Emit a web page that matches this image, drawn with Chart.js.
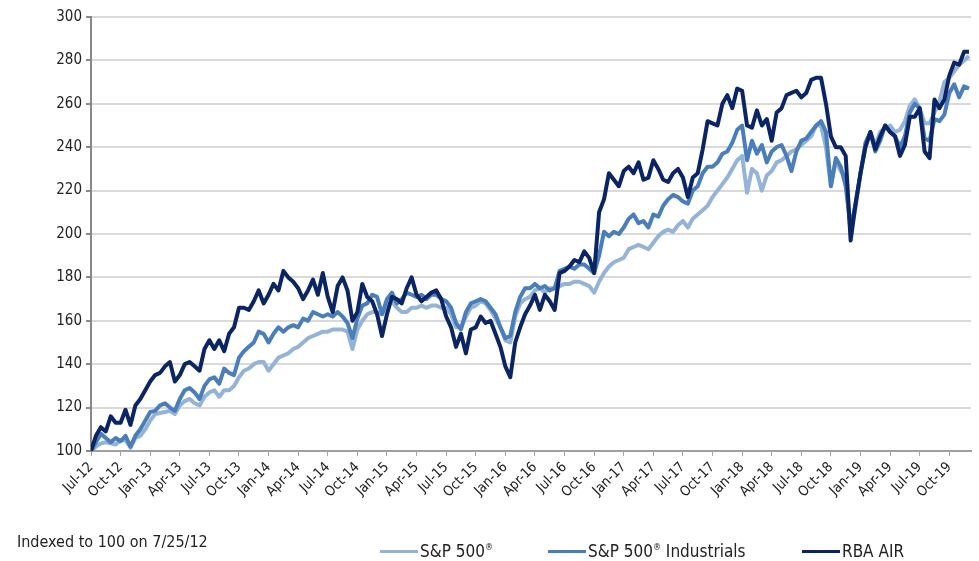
<!DOCTYPE html>
<html>
<head>
<meta charset="utf-8">
<script src="https://cdn.jsdelivr.net/npm/chart.js@4.4.1/dist/chart.umd.min.js"></script>
<style>
    html, body { margin: 0; padding: 0; background: #fff; }
    #wrap { position: relative; width: 979px; height: 561px; font-family: "Liberation Sans Narrow", "DejaVu Sans Condensed", "Liberation Sans", sans-serif; color: #222; }
    #chart { position: absolute; left: 0; top: 0; }
    .note { position: absolute; left: 17px; top: 532px; font-size: 16px; }
    .item { position: absolute; top: 541px; font-size: 17px; white-space: nowrap; }
    .item i { display: inline-block; width: 38px; height: 3px; vertical-align: middle; margin-right: 2px; margin-top: -2px; }
    .item sup { font-size: 9px; }
</style>
</head>
<body>
<div id="wrap">
    <canvas id="chart" width="979" height="561"></canvas>
    <div class="note">Indexed to 100 on 7/25/12</div>
    <div class="item" style="left:380px"><i style="background:#95b3d7"></i>S&amp;P 500<sup>®</sup></div>
    <div class="item" style="left:548px"><i style="background:#4a7ebb"></i>S&amp;P 500<sup>®</sup> Industrials</div>
    <div class="item" style="left:802px"><i style="background:#0b2463"></i>RBA AIR</div>
</div>
<script>
// x = months after the Jul-12 tick, one point every half month
const months = [];
for (let i = 0; i <= 178; i++) months.push(i / 2);

const tickLabels = [
    "Jul-12", "Oct-12", "Jan-13", "Apr-13", "Jul-13", "Oct-13", "Jan-14", "Apr-14",
    "Jul-14", "Oct-14", "Jan-15", "Apr-15", "Jul-15", "Oct-15", "Jan-16", "Apr-16",
    "Jul-16", "Oct-16", "Jan-17", "Apr-17", "Jul-17", "Oct-17", "Jan-18", "Apr-18",
    "Jul-18", "Oct-18", "Jan-19", "Apr-19", "Jul-19", "Oct-19"
];

const rbaAir = [
    100, 107, 111, 109, 116, 113, 113, 119, 112, 121, 124, 128, 132, 135, 136, 139,
    141, 132, 135, 140, 141, 139, 137, 147, 151, 147, 151, 146, 154, 157, 166, 166,
    165, 169, 174, 168, 172, 177, 174, 183, 180, 178, 175, 170, 174, 179, 172, 182,
    171, 164, 176, 180, 174, 160, 164, 177, 171, 169, 163, 153, 163, 171, 170, 168,
    175, 180, 172, 169, 171, 173, 174, 170, 162, 157, 148, 154, 145, 156, 157, 162,
    159, 160, 154, 148, 139, 134, 150, 157, 163, 167, 172, 165, 172, 169, 165, 182,
    183, 185, 188, 187, 192, 189, 182, 210, 216, 228, 225, 222, 229, 231, 228, 233,
    225, 226, 234, 230, 225, 224, 228, 230, 226, 217, 226, 228, 239, 252, 251, 250,
    260, 264, 258, 267, 266, 250, 249, 257, 250, 253, 243, 256, 258, 264, 265, 266,
    263, 265, 271, 272, 272, 260, 245, 240, 240, 236, 197, 214, 228, 240, 247, 239,
    245, 250, 247, 245, 236, 241, 254, 254, 258, 238, 235, 262, 258, 262, 273, 279,
    278, 284, 284
];

const spIndustrials = [
    100, 104, 108, 106, 104, 106, 104.5, 107, 102, 107, 110, 114, 118, 118.5, 121, 122,
    120, 118.5, 124, 128, 129, 127, 124, 130, 133, 134, 131, 138, 136, 135, 143, 146,
    148, 150, 155, 154, 150, 154, 157, 155, 157, 158, 157, 161, 160, 164, 163, 162,
    163, 162, 164, 162, 159, 152, 161, 167, 168, 172, 171, 163, 170, 173, 168, 170,
    173, 172, 171, 172, 170, 172, 172, 170, 169, 166, 159, 156, 164, 168, 169, 170,
    169, 166, 163, 157, 152, 153, 164, 171, 175, 175, 177, 175, 176, 174, 175, 183,
    184, 185, 184, 186, 186, 184, 182, 190, 201, 199, 201, 200, 203, 207, 209, 205,
    206, 203, 209, 208, 213, 216, 218, 217, 215, 214, 220, 222, 228, 231, 231, 233,
    237, 238, 242, 248, 250, 234, 243, 237, 241, 233, 238, 240, 241, 236, 229, 238,
    243, 244, 247, 250, 252, 247, 222, 235, 231, 222, 203, 214, 228, 242, 247, 238,
    243, 250, 247, 245, 240, 245, 256, 260, 258, 244, 243, 253, 252, 255, 265, 269,
    263, 268, 267
];

const sp500 = [
    100, 102, 103.5, 104, 103.5, 103, 105, 105, 101.5, 106, 107, 110, 114, 117, 117.5, 118,
    118.5, 117, 121, 123, 124, 122, 121, 125, 127, 128, 125, 128, 128, 130, 134, 137,
    138, 140, 141, 141, 137, 140, 143, 144, 145, 147, 148, 150, 152, 153, 154, 155,
    155, 156, 156, 156, 155, 147, 156, 160, 163, 164, 164, 163, 167, 169, 166, 164,
    164, 166, 166, 167, 166, 167, 167, 166, 166, 163, 157, 157, 162, 166, 167, 169,
    168, 165, 161, 157, 151, 150, 162, 168, 170, 171, 174, 175, 173, 175, 175, 176,
    177, 177, 178, 178, 177, 176, 173, 178, 182, 185, 187, 188, 189, 193, 194, 195,
    194, 193, 196, 199, 201, 202, 201, 204, 206, 203, 207, 209, 211, 213, 217, 220,
    223, 226, 230, 234, 236, 219, 230, 228, 220, 227, 229, 233, 234, 236, 238, 239,
    241, 243, 245, 250, 250, 240, 222, 234, 229, 226, 200, 212, 228, 240, 247, 241,
    247, 249, 250, 247, 248, 252, 259, 262, 258, 251, 251, 256, 261, 270, 272, 275,
    278, 280, 282
];

const toPoints = (ys) => ys.map((y, i) => ({ x: months[i], y: y }));

const ctx = document.getElementById("chart").getContext("2d");
const myChart = new Chart(ctx, {
    type: "line",
    data: {
        datasets: [
            {
                label: "S&P 500®",
                data: toPoints(sp500),
                borderColor: "#95b3d7",
                borderWidth: 4,
                order: 3,
            },
            {
                label: "S&P 500® Industrials",
                data: toPoints(spIndustrials),
                borderColor: "#4a7ebb",
                borderWidth: 4,
                order: 2,
            },
            {
                label: "RBA AIR",
                data: toPoints(rbaAir),
                borderColor: "#0b2463",
                borderWidth: 4,
                order: 1,
            },
        ],
    },
    options: {
        responsive: false,
        animation: false,
        events: [],
        elements: { point: { radius: 0 }, line: { tension: 0, borderJoinStyle: "round" } },
        layout: { padding: { left: 0, right: 8, top: 17, bottom: 0 } },
        plugins: { legend: { display: false }, tooltip: { enabled: false } },
        scales: {
            x: {
                type: "linear",
                min: 0,
                max: 89.2,
                afterFit: (s) => { s.height = 110; },
                grid: { drawOnChartArea: false, tickLength: 5, tickColor: "#a0a0a0", lineWidth: 1 },
                border: { color: "#a0a0a0", width: 2 },
                ticks: {
                    stepSize: 3,
                    includeBounds: false,
                    autoSkip: false,
                    minRotation: 45,
                    maxRotation: 45,
                    color: "#222",
                    font: { family: "'Liberation Sans Narrow', 'DejaVu Sans Condensed', sans-serif", size: 14 },
                    callback: (v) => tickLabels[v / 3],
                },
            },
            y: {
                min: 100,
                max: 300,
                afterFit: (s) => { s.width = 91; },
                grid: { color: "#dadada", lineWidth: 2, tickLength: 5, tickColor: "#888" },
                border: { color: "#888", width: 2 },
                ticks: {
                    stepSize: 20,
                    color: "#222",
                    padding: 4,
                    font: { family: "'Liberation Sans Narrow', 'DejaVu Sans Condensed', sans-serif", size: 15 },
                },
            },
        },
    },
});
</script>
</body>
</html>
